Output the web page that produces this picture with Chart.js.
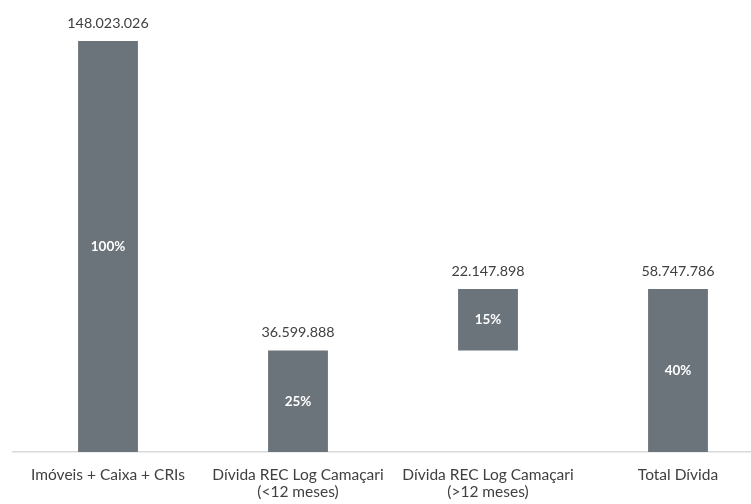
<!DOCTYPE html>
<html>
<head>
<meta charset="utf-8">
<script src="https://cdn.jsdelivr.net/npm/chart.js@4.4.1/dist/chart.umd.min.js"></script>
<style>
  html, body { margin: 0; padding: 0; background: #fff; overflow: hidden; }
  #wrap { width: 786px; height: 504px; }
</style>
</head>
<body>
<div id="wrap"><canvas id="chart"></canvas></div>
<script>
const categories = [
  'Imóveis + Caixa + CRIs',
  ['Dívida REC Log Camaçari', '(<12 meses)'],
  ['Dívida REC Log Camaçari', '(>12 meses)'],
  'Total Dívida',
];
const barStarts = [0, 0, 36599888, 0];
const barEnds = [148023026, 36599888, 58747786, 58747786];
const valueLabels = ['148.023.026', '36.599.888', '22.147.898', '58.747.786'];
const pctLabels = ['100%', '25%', '15%', '40%'];

const BAR = '#6c747b';
const INK = '#404040';
const FONT = 'Lato, "Liberation Sans", sans-serif';

const labelPlugin = {
  id: 'barLabels',
  afterDatasetsDraw(chart) {
    const ctx = chart.ctx;
    const meta = chart.getDatasetMeta(0);
    ctx.save();
    ctx.textAlign = 'center';
    meta.data.forEach((bar, i) => {
      const top = Math.min(bar.y, bar.base);
      const bottom = Math.max(bar.y, bar.base);
      ctx.fillStyle = INK;
      ctx.font = '14.3px ' + FONT;
      ctx.textBaseline = 'alphabetic';
      ctx.fillText(valueLabels[i], bar.x, top - 13);
      ctx.fillStyle = '#ffffff';
      ctx.font = 'bold 13.5px ' + FONT;
      ctx.textBaseline = 'middle';
      ctx.fillText(pctLabels[i], bar.x, (top + bottom) / 2);
    });
    ctx.restore();
  },
};

new Chart(document.getElementById('chart'), {
  type: 'bar',
  data: {
    labels: categories,
    datasets: [{
      data: barStarts.map((s, i) => [s, barEnds[i]]),
      backgroundColor: BAR,
      borderSkipped: false,
      categoryPercentage: 1,
      barPercentage: 0.315,
    }],
  },
  options: {
    responsive: true,
    maintainAspectRatio: false,
    animation: false,
    layout: { padding: { left: 13, right: 13, top: 0, bottom: 0 } },
    plugins: { legend: { display: false }, tooltip: { enabled: false } },
    scales: {
      x: {
        grid: { display: false, drawTicks: false },
        border: { display: true, color: '#d9d9d9', width: 1.5 },
        ticks: { color: INK, font: { family: FONT, size: 15.5, lineHeight: 1.12 }, padding: 14, maxRotation: 0, autoSkip: false },
        afterFit: (scale) => { scale.height = 52; },
      },
      y: {
        display: false,
        min: 0,
        max: 162800000,
      },
    },
  },
  plugins: [labelPlugin],
});
</script>
</body>
</html>
